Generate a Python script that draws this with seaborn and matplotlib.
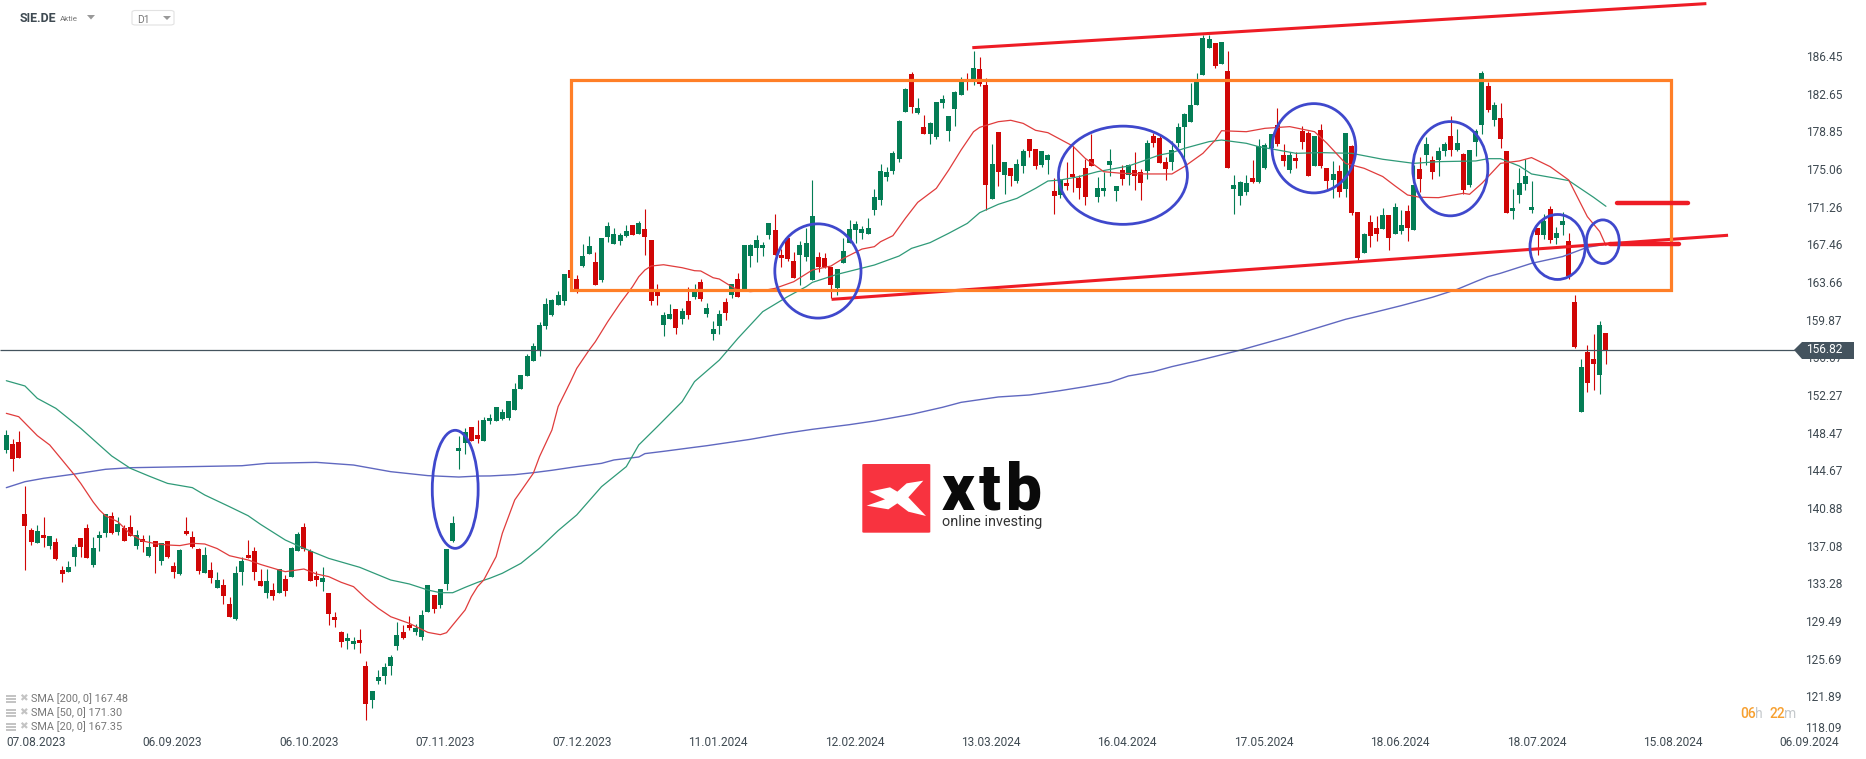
import numpy as np
import pandas as pd
import matplotlib
matplotlib.use("Agg")
import matplotlib.pyplot as plt
import seaborn as sns
from matplotlib.patches import Ellipse, Rectangle, Polygon, FancyBboxPatch

# daily candles SIE.DE, one value per trading day
opens = [146.73,147.34,147.54,140.28,138.67,137.36,138.17,137.06,137.46,134.64,
134.44,135.95,137.86,138.87,135.14,137.86,138.37,140.08,138.47,138.87,
138.97,137.06,137.76,136.05,137.56,135.55,137.56,135.04,134.23,138.57,
137.96,136.75,134.34,134.64,132.82,133.13,131.21,129.7,134.44,136.15,
136.55,133.53,132.32,132.62,132.32,133.73,133.93,136.55,138.97,136.55,
134.03,133.43,132.32,129.9,128.39,127.48,127.18,127.58,124.96,121.53,
123.45,123.95,124.96,126.98,128.39,129.09,128.39,127.88,130.4,132.12,
131.11,133.23,137.56,146.63,147.44,149.05,148.25,147.65,149.66,149.66,
149.86,149.96,150.77,152.89,154.19,155.7,156.81,159.23,160.34,161.35,
161.75,164.88,163.97,165.28,166.49,165.68,163.87,168.2,167.5,167.8,
168.3,169.41,168.5,169.01,167.9,162.76,159.33,159.94,160.94,159.94,
161.75,162.15,163.67,160.44,158.42,159.23,161.65,162.36,163.97,162.86,
166.29,167.09,167.09,168.4,168.91,166.39,168.1,165.78,166.39,166.19,
163.87,166.19,166.09,165.18,163.06,165.58,167.6,168.91,168.61,168.5,
170.92,171.93,174.25,174.86,176.06,180.8,184.63,180.7,179.29,178.59,
178.29,181.71,178.89,181.11,182.52,184.03,184.03,185.14,183.53,172.04,
178.79,174.46,175.16,173.85,175.36,178.08,177.08,175.46,175.97,172.84,
172.44,173.65,174.56,174.15,175.16,176.07,172.24,172.84,175.46,172.84,
174.96,174.46,174.96,174.76,174.86,178.39,178.19,175.77,175.77,177.68,
179.29,179.8,181.51,184.54,187.26,187.76,185.64,184.94,173.04,172.34,
172.74,174.15,173.75,175.16,177.14,179.5,176.47,174.96,176.17,178.89,
178.69,175.36,178.99,175.16,173.95,174.86,173.04,177.38,170.73,166.59,
169.72,169.11,169.01,170.43,168.51,168.81,170.83,168.91,175.06,176.47,
175.97,175.97,176.88,178.39,176.98,176.57,173.45,177.78,179.5,183.43,
180.0,180.2,176.88,170.83,172.44,173.55,170.93,169.12,168.41,171.03,
168.11,169.42,167.81,161.66,150.57,156.62,155.91,154.3,158.53]
highs = [148.75,147.81,148.65,143.11,138.84,139.17,139.98,138.07,137.83,135.04,
135.55,137.26,137.86,139.27,137.96,138.57,140.28,140.48,139.98,139.17,
140.18,138.67,138.17,138.17,137.56,137.36,137.56,135.44,136.75,139.98,
138.57,136.86,136.96,135.44,134.44,133.73,131.92,135.04,135.95,137.66,
136.96,134.74,134.74,133.33,134.74,134.13,136.96,138.47,139.38,136.75,
134.54,134.94,132.32,130.4,128.49,128.29,127.88,128.69,125.47,122.44,
124.56,125.23,126.07,129.4,129.09,130.0,129.19,130.61,133.13,132.12,
132.72,136.75,140.08,148.15,148.95,149.05,149.76,150.06,150.37,151.07,
150.87,151.68,153.49,154.3,156.41,157.52,159.63,162.05,161.95,162.76,
164.47,164.88,164.37,167.5,168.3,166.69,168.1,169.71,169.11,168.61,
169.41,169.41,169.82,171.02,167.9,163.46,160.64,161.45,160.94,161.05,
163.16,163.46,163.97,161.55,159.74,160.84,162.05,163.46,164.57,167.4,
167.5,168.4,167.7,169.61,170.52,166.99,168.1,166.69,167.8,169.11,
173.95,166.69,166.59,165.18,164.98,168.1,169.92,169.82,169.31,170.12,
173.04,175.56,175.26,176.87,180.0,183.22,184.83,182.21,180.5,179.8,
181.81,182.52,180.4,182.92,184.33,184.74,186.96,186.35,184.23,177.58,
178.79,175.77,175.16,176.07,177.08,178.08,177.08,176.88,176.57,174.15,
174.05,175.77,177.38,174.46,176.07,178.59,174.25,174.76,177.08,173.35,
175.46,175.56,176.77,175.06,177.98,178.69,178.49,176.27,177.88,179.7,
180.71,183.73,184.74,188.57,188.57,187.76,187.86,186.96,174.46,173.85,
174.46,175.97,178.08,177.68,178.59,181.21,177.58,176.77,176.77,179.4,
178.89,178.39,179.6,175.16,175.87,175.46,178.69,177.48,170.73,168.61,
170.43,170.32,171.13,170.43,171.64,170.93,171.43,175.47,176.27,178.29,
176.37,177.28,177.78,180.41,179.09,176.68,176.98,179.09,184.94,183.83,
181.82,181.72,176.88,173.05,175.16,176.07,173.85,169.12,170.53,171.33,
169.22,170.73,168.61,162.36,155.91,157.32,158.43,159.74,158.53]
lows = [146.47,144.65,145.93,134.64,137.19,137.36,136.99,136.75,135.65,133.43,
134.44,135.04,135.95,135.85,134.94,136.55,137.96,138.27,138.17,137.56,
138.07,136.75,136.45,135.95,134.34,135.14,135.85,133.83,134.13,138.17,
136.86,134.23,134.34,133.33,132.82,131.21,129.9,129.6,133.13,135.85,
133.63,133.03,131.82,131.61,132.32,132.02,133.93,136.55,136.55,133.53,
133.03,132.52,129.09,128.89,126.88,126.67,126.67,126.27,119.52,120.73,
123.15,123.15,124.05,126.57,127.68,128.59,128.09,127.58,130.4,130.3,
130.81,132.62,137.46,144.82,146.33,147.64,147.44,147.65,149.36,149.66,
149.76,149.76,150.77,152.89,154.19,155.7,156.21,158.93,160.24,161.35,
161.35,164.07,162.56,165.18,166.49,163.36,163.67,167.7,167.5,167.4,
168.2,168.4,168.5,166.39,161.35,161.35,158.22,159.94,158.42,159.43,
159.94,161.95,161.75,160.14,157.82,158.42,159.84,162.05,162.15,162.86,
165.18,165.68,166.29,168.0,166.39,165.18,165.78,164.07,163.36,165.78,
163.87,164.67,165.08,162.02,162.36,165.58,167.6,167.6,168.0,168.5,
170.42,171.43,173.85,174.55,175.76,180.8,180.7,180.6,178.59,177.58,
178.08,181.21,177.88,179.4,182.52,183.02,183.53,183.43,170.93,172.04,
173.35,172.54,173.35,173.65,174.66,176.27,175.06,175.26,174.56,170.52,
172.14,172.94,172.74,172.04,171.43,175.36,171.73,172.34,174.36,171.84,
173.45,173.45,172.94,171.94,174.05,177.28,175.67,173.95,174.96,177.28,
175.97,179.8,181.51,184.54,187.26,185.24,185.64,175.16,170.52,171.43,
172.44,173.65,173.65,175.06,177.14,177.38,175.36,174.66,175.16,177.08,
174.36,175.36,175.16,173.04,172.14,172.24,172.24,170.43,165.89,166.59,
167.2,167.8,169.01,166.9,168.51,168.51,167.81,168.91,172.74,175.47,
174.05,174.36,176.37,176.37,176.88,172.54,173.25,176.37,178.59,180.81,
179.4,177.18,170.63,170.02,171.64,172.95,170.63,166.39,168.01,167.6,
167.5,168.41,163.97,157.02,150.57,152.58,152.79,152.38,155.41]
closes = [148.25,145.83,145.93,139.07,137.49,138.57,137.86,138.07,135.75,134.23,
134.94,136.96,136.96,135.85,136.86,138.17,140.28,138.37,139.27,137.56,
138.07,138.17,137.46,136.96,136.96,137.36,135.95,134.44,136.65,138.27,
136.96,134.54,136.15,133.83,133.63,132.02,129.9,134.34,135.55,135.85,
134.44,133.03,133.53,132.02,134.74,132.52,136.86,138.27,136.75,133.53,
133.63,133.83,130.2,129.6,127.38,127.78,127.48,127.28,121.13,122.44,
123.85,124.86,125.87,128.09,127.78,128.79,128.79,130.1,133.13,130.71,
132.72,136.75,139.38,146.94,148.55,147.64,147.84,149.76,149.96,151.07,
150.57,151.68,152.89,154.3,156.21,157.22,159.33,161.45,161.85,162.36,
164.47,164.07,162.86,166.29,167.3,163.36,168.1,169.31,168.5,168.4,
168.81,168.4,169.61,168.2,161.75,162.26,160.34,160.44,159.03,160.74,
160.34,162.76,161.95,161.05,158.93,160.44,160.54,163.46,162.15,167.4,
167.4,167.9,167.4,169.61,166.39,166.09,165.98,164.07,167.4,167.6,
170.32,165.18,165.18,163.36,164.98,166.79,169.01,169.51,169.01,169.11,
172.23,174.86,174.75,176.67,179.9,183.12,181.31,181.21,178.59,179.7,
181.81,182.12,180.4,182.82,183.83,183.93,185.24,183.63,173.45,175.56,
174.76,175.77,174.36,175.56,176.88,176.88,175.36,176.88,176.47,172.34,
173.95,173.35,174.25,173.15,172.24,175.36,173.15,173.15,175.87,173.35,
174.05,175.46,174.36,173.65,177.68,177.68,175.67,175.06,176.98,179.29,
180.6,181.51,183.83,188.27,188.16,185.44,187.86,175.16,173.45,173.75,
173.65,173.75,177.38,177.48,178.59,177.58,175.87,176.47,175.87,177.78,
174.36,178.39,175.36,173.85,174.56,172.74,178.69,170.63,166.09,168.51,
168.31,168.51,170.43,168.11,171.23,169.42,169.12,173.45,174.05,177.58,
174.76,176.88,177.58,176.98,177.68,172.95,176.98,178.89,184.74,181.01,
181.51,178.09,170.63,171.13,173.65,174.36,171.23,168.41,169.82,167.91,
168.61,169.82,164.28,157.12,155.1,153.49,155.41,159.34,156.82]

# moving averages, read at some of the candles
sma20_days = [0,2,5,7,9,11,12,14,15,16,18,20,22,24,26,28,30,32,34,36,39,41,44,45,48,50,52,54,56,58,60,62,65,68,70,71,72,74,75,76,
77,79,80,82,85,86,88,89,91,92,94,95,97,99,101,102,103,104,106,109,111,112,114,115,117,118,120,122,124,127,130,133,135,138,140,141,143,145,147,
150,152,154,156,157,160,162,164,166,168,170,172,174,177,180,184,188,190,193,195,196,200,203,207,211,213,216,219,222,
224,226,228,231,235,236,238,241,244,246,249,252,255,257,258]
sma20 = [150.43,150.09,148.18,147.24,145.73,144.21,143.37,141.5,140.7,140.1,139.5,138.27,137.56,137.3,137.16,137.1,137.33,137.26,136.8,136.08,135.65,135.2,134.64,134.47,134.74,134.24,133.97,133.4,132.96,131.78,130.77,129.93,129.26,128.35,128.12,128.32,129.09,130.61,131.95,132.96,
133.63,135.99,138.34,141.7,144.39,146.07,148.75,151.11,153.63,154.96,156.81,157.65,159.67,161.52,163.2,164.2,164.88,165.28,165.41,165.11,164.81,164.78,164.1,163.97,163.2,162.86,162.7,162.8,163.03,163.7,164.88,165.28,166.05,166.99,167.23,167.73,168.34,170.08,171.7,
173.11,174.96,176.98,178.82,179.26,179.83,179.97,179.66,178.96,178.72,178.05,177.38,176.14,174.79,174.62,174.56,174.56,175.3,176.64,177.98,178.92,178.82,179.16,179.33,178.82,177.65,175.63,175.13,174.3,
173.35,172.44,172.21,172.17,172.61,172.51,173.62,175.63,175.87,176.21,175.3,173.95,170.26,168.75,167.35]
sma50_days = [0,3,5,8,12,15,17,20,23,26,30,32,36,39,41,45,48,52,57,62,65,68,70,72,74,76,78,80,83,86,89,92,96,100,102,105,109,111,
115,118,122,126,129,130,134,140,144,146,149,152,155,157,160,163,166,168,170,173,176,181,183,186,188,190,194,196,200,202,205,208,212,217,222,
227,231,237,239,241,244,246,250,252,256,258]
sma50 = [153.72,153.19,151.94,150.93,148.92,147.24,146.13,144.89,144.11,143.37,142.94,142.2,141.02,140.11,139.24,137.66,136.82,135.81,134.91,133.63,133.23,132.62,132.35,132.35,132.89,133.39,133.81,134.31,135.31,136.83,138.61,140.19,143.04,145.06,147.24,149.09,151.61,153.63,
155.8,157.99,160.68,162.19,163.2,163.63,164.44,165.38,166.29,167.06,167.64,168.58,169.58,170.66,171.5,172.1,173.11,173.85,173.95,174.29,174.79,175.36,175.8,176.47,176.71,177.14,177.82,177.98,177.65,177.31,176.98,176.64,176.71,176.64,176.04,
175.63,175.8,175.87,176.1,176.1,175.37,174.56,174.12,173.89,172.21,171.3]
sma200_days = [0,3,6,11,16,20,29,38,42,50,56,62,68,73,76,78,82,85,88,92,96,98,102,103,106,111,113,
120,124,126,130,136,140,146,151,154,160,165,170,174,178,181,185,188,192,199,207,216,220,225,230,234,237,239,241,246,251,255,258]
sma200 = [142.94,143.54,143.88,144.31,144.79,144.95,145.05,145.15,145.39,145.49,145.22,144.55,144.15,144.01,144.11,144.12,144.25,144.45,144.69,145.06,145.39,145.73,146.03,146.37,146.6,147.01,147.17,
147.81,148.25,148.45,148.82,149.29,149.66,150.33,151.04,151.54,152.08,152.28,152.72,153.12,153.56,154.2,154.63,155.14,155.71,156.8,158.2,159.91,160.51,161.29,162.13,162.93,163.71,164.21,164.55,165.55,166.23,167.17,167.48]

price_ticks = [186.45,182.65,178.85,175.06,171.26,167.46,163.66,159.87,156.07,152.27,148.47,144.67,140.88,137.08,133.28,129.49,125.69,121.89]
date_labels = ["07.08.2023","06.09.2023","06.10.2023","07.11.2023","07.12.2023","11.01.2024","12.02.2024",
               "13.03.2024","16.04.2024","17.05.2024","18.06.2024","18.07.2024","15.08.2024","06.09.2024"]
legend_labels = ["SMA [200, 0] 167.48", "SMA [50, 0] 171.30", "SMA [20, 0] 167.35"]

# hand drawn analysis on top: (day, price)
box_days = (91.0, 268.5)
box_prices = (162.83, 184.0)
upper_channel = ([155.8, 274.2], [187.29, 191.73])
lower_channel = ([133.1, 277.7], [161.92, 168.38])
resist_bar = ([259.8, 271.2], [171.6, 171.6])
support_bar = ([258.7, 269.8], [167.47, 167.47])
circle_x = [72.4, 130.9, 180.1, 210.9, 232.9, 250.2, 257.5]
circle_y = [142.77, 164.78, 174.43, 177.15, 175.09, 167.2, 167.73]
circle_w = [7.4, 13.9, 20.8, 13.5, 12.1, 8.9, 5.3]
circle_h = [11.9, 9.5, 9.9, 9.0, 9.5, 6.55, 4.4]

W, H = 1866, 759
GREEN = "#047d55"
RED = "#d00606"

sns.set_theme(style="white")
plt.rcParams["font.family"] = ["Roboto", "DejaVu Sans"]

fig = plt.figure(figsize=(W / 100, H / 100), dpi=100)
ax = fig.add_axes([0, 0, 1, 1])

def day_at(px):
    return (px - 6.33) / 6.2

def price_at(py):
    return 182.65 - (py - 93.7) * 0.1008

ax.set_xlim(day_at(0), day_at(W))
ax.set_ylim(price_at(H), price_at(0))

candles = pd.DataFrame({"open": opens, "high": highs, "low": lows, "close": closes})
candles["day"] = candles.index
candles["color"] = np.where(candles["close"] >= candles["open"], GREEN, RED)

ax.vlines(candles["day"], candles["low"], candles["high"], colors=candles["color"], lw=0.8, zorder=2)
ax.bar(candles["day"], (candles["close"] - candles["open"]).abs(), bottom=candles[["open", "close"]].min(axis=1),
       width=0.8, color=candles["color"], linewidth=0, zorder=3)

sns.lineplot(x=sma200_days, y=sma200, ax=ax, color="#6068c0", lw=1.0, estimator=None, zorder=4)
sns.lineplot(x=sma50_days, y=sma50, ax=ax, color="#2f9a78", lw=0.9, estimator=None, zorder=4)
sns.lineplot(x=sma20_days, y=sma20, ax=ax, color="#e03c3c", lw=0.9, estimator=None, zorder=4)

# current price line and tag
last = closes[-1]
ax.hlines(last, day_at(0), day_at(1795), color="#44535e", lw=0.9, zorder=4)
tag = Polygon([(day_at(1794), last), (day_at(1802), price_at(342)), (day_at(1854), price_at(342)),
               (day_at(1854), price_at(359)), (day_at(1802), price_at(359))],
              closed=True, facecolor="#44535e", edgecolor="none", zorder=9)
ax.add_patch(tag)
ax.text(day_at(1842), last, f"{last:.2f}", color="white", fontsize=8.6, ha="right", va="center", zorder=10)

# analysis drawing
ax.plot(*lower_channel, color="#ee1c25", lw=2.2, zorder=5, solid_capstyle="butt")
ax.add_patch(Rectangle((box_days[0], box_prices[0]), box_days[1] - box_days[0], box_prices[1] - box_prices[0],
                       fill=False, edgecolor="#ff7f27", lw=2.3, zorder=6))
ax.plot(*upper_channel, color="#ee1c25", lw=2.2, zorder=7, solid_capstyle="butt")
ax.plot(*resist_bar, color="#ee1c25", lw=3.2, zorder=7)
ax.plot(*support_bar, color="#ee1c25", lw=3.2, zorder=7)
for cx, cy, cw, ch in zip(circle_x, circle_y, circle_w, circle_h):
    ax.add_patch(Ellipse((cx, cy), cw, ch, fill=False, edgecolor="#3f48cc", lw=2.0, zorder=8))

# axes
ax.set_xlabel("")
ax.set_ylabel("")
for s in ax.spines.values():
    s.set_visible(False)
ax.yaxis.tick_right()
ax.set_yticks(price_ticks)
ax.set_yticklabels([f"{p:.2f}" for p in price_ticks])
ax.tick_params(axis="y", length=0, pad=-17.3, labelsize=8.6, labelcolor="#3f4a52")
for lab in ax.get_yticklabels():
    lab.set_ha("right")
ax.set_xticks([22 * i for i in range(len(date_labels))])
ax.set_xticklabels(date_labels)
ax.tick_params(axis="x", length=0, pad=-7.5, labelsize=8.6, labelcolor="#3f4a52")
for lab in ax.get_xticklabels():
    lab.set_ha("left")
    lab.set_va("bottom")
ax.set_xlim(day_at(0), day_at(W))
ax.set_ylim(price_at(H), price_at(0))


def fx(px):
    return px / W


def fy(py):
    return 1 - py / H


ax.text(fx(1842), fy(729), "118.09", transform=ax.transAxes, fontsize=8.6, color="#3f4a52", ha="right", va="center")

# header
ax.text(fx(20), fy(19), "SIE.DE", transform=ax.transAxes, fontsize=8.9, fontweight="bold", color="#3f4a52", va="center")
ax.text(fx(60), fy(19), "Aktie", transform=ax.transAxes, fontsize=5.8, color="#777777", va="center")
ax.add_patch(Polygon([(fx(87), fy(15)), (fx(95), fy(15)), (fx(91), fy(19.5))], transform=ax.transAxes, color="#999999", lw=0))
ax.add_patch(FancyBboxPatch((fx(132), fy(25)), fx(42), 14.5 / H, boxstyle="round,pad=0,rounding_size=0.002",
                            transform=ax.transAxes, fill=False, edgecolor="#e2e2e2", lw=0.8))
ax.text(fx(137), fy(20), "D1", transform=ax.transAxes, fontsize=7.4, color="#777777", va="center")
ax.add_patch(Polygon([(fx(163), fy(16)), (fx(171), fy(16)), (fx(167), fy(20))], transform=ax.transAxes, color="#999999", lw=0))

# sma legend bottom left
for py, label in zip([699, 713, 727], legend_labels):
    ax.text(fx(31), fy(py), label, transform=ax.transAxes, fontsize=7.8, color="#777777", va="center")
    for dy in (-3, 0, 3):
        ax.add_patch(Rectangle((fx(6), fy(py + dy + 0.8)), fx(10), 1.6 / H, transform=ax.transAxes, color="#c4c4c4", lw=0))
    ax.text(fx(23.5), fy(py - 0.5), "\u2716", transform=ax.transAxes, fontsize=7.5, color="#c4c4c4",
            ha="center", va="center", family="DejaVu Sans")

# countdown
for px, txt, col, w in [(1740, "06", "#f7a030", "medium"), (1755, "h", "#c5c9cc", "normal"),
                        (1769, "22", "#f7a030", "medium"), (1784, "m", "#c5c9cc", "normal")]:
    ax.text(fx(px), fy(714), txt, transform=ax.transAxes, fontsize=10, color=col, fontweight=w, va="center")

# xtb logo
ax.add_patch(FancyBboxPatch((fx(862.3), fy(532.7)), fx(68), 68.7 / H, boxstyle="round,pad=0,rounding_size=0.001",
                            transform=ax.transAxes, facecolor="#f8333f", edgecolor="none", zorder=9))
star = [(250, 122), (205, 172), (258, 228), (205, 215), (172, 190), (145, 208), (80, 197),
        (135, 178), (88, 155), (150, 142), (172, 155), (200, 130)]
ax.add_patch(Polygon([(fx(840 + a / 3), fy(440 + b / 3)) for a, b in star], transform=ax.transAxes,
                     facecolor="white", edgecolor="none", zorder=10))
for px, ch in [(942, "x"), (979, "t"), (1006, "b")]:
    ax.text(fx(px), fy(510), ch, transform=ax.transAxes, fontsize=46, fontweight="black", color="#0a0a0a",
            va="baseline", zorder=9)
ax.text(fx(942.5), fy(522), "online investing", transform=ax.transAxes, fontsize=10.4, color="#333333",
        va="center", zorder=9)

fig.savefig("out.png", dpi=100, facecolor="white")
